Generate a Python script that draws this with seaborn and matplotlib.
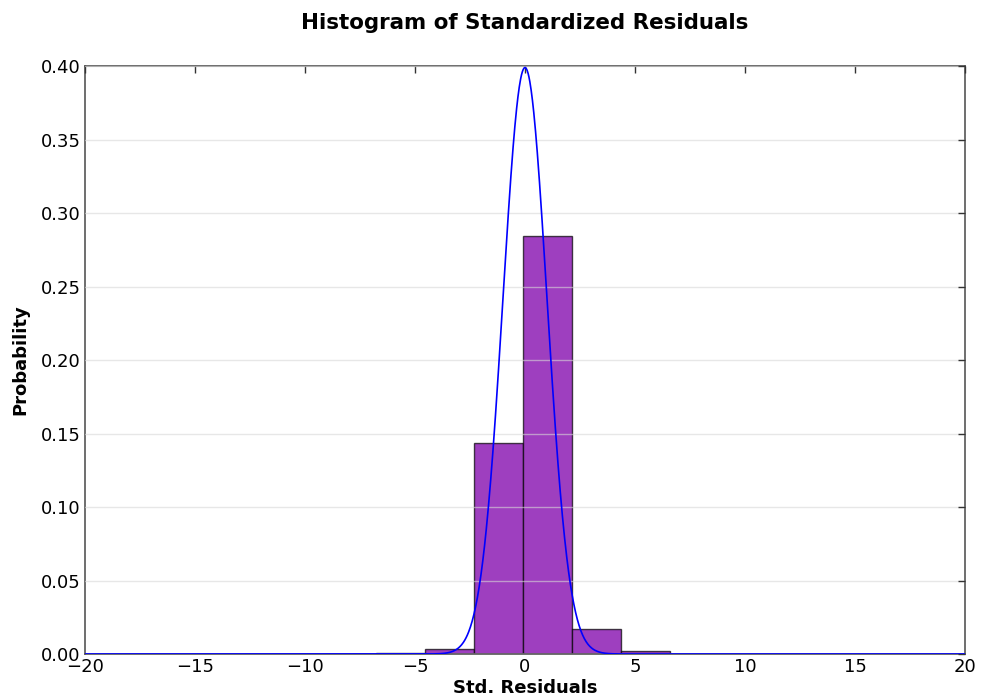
import numpy as np
import pandas as pd
import matplotlib
matplotlib.use("Agg")
import matplotlib.pyplot as plt
import seaborn as sns

# Histogram data (density per bin)
bin_edges = [-6.77, -4.55, -2.32, -0.10, 2.13, 4.35, 6.58]
bin_heights = [0.0005, 0.0034, 0.1435, 0.2844, 0.0170, 0.0023]

# Reference normal curve parameters
norm_mean = 0.0
norm_std = 1.0

x_ticks = [-20, -15, -10, -5, 0, 5, 10, 15, 20]
y_ticks = [0.00, 0.05, 0.10, 0.15, 0.20, 0.25, 0.30, 0.35, 0.40]

sns.set_style("white")
plt.rcParams['font.family'] = ['DejaVu Sans']
plt.rcParams['text.color'] = 'black'
plt.rcParams['axes.labelcolor'] = 'black'
plt.rcParams['xtick.color'] = 'black'
plt.rcParams['ytick.color'] = 'black'

fig = plt.figure(figsize=(9.81, 7.0), dpi=100)
ax = fig.add_axes([0.0866, 0.0657, 0.8971, 0.84])

centers = [(a + b) / 2 for a, b in zip(bin_edges[:-1], bin_edges[1:])]
df = pd.DataFrame({"x": centers, "w": bin_heights})
sns.histplot(data=df, x="x", weights="w", bins=bin_edges, stat="count",
             color="#9e3fbf", alpha=1.0, edgecolor="black", linewidth=1.0,
             ax=ax, zorder=1)
for p in ax.patches:
    p.set_edgecolor((0, 0, 0, 0.7))

xs = np.linspace(-20, 20, 2001)
pdf = np.exp(-0.5 * ((xs - norm_mean) / norm_std) ** 2) / (norm_std * np.sqrt(2 * np.pi))
sns.lineplot(x=xs, y=pdf, color="blue", linewidth=1.2, ax=ax, zorder=3)

ax.set_xlim(-20, 20)
ax.set_ylim(0, 0.40)
ax.set_xticks(x_ticks)
ax.set_yticks(y_ticks)
ax.set_yticklabels([f"{v:.2f}" for v in y_ticks])
ax.set_xticklabels([f"{v}".replace("-", "\u2212") for v in x_ticks])

ax.yaxis.grid(True, color="#d8d8d8", alpha=0.6, linewidth=1.0, zorder=2)
ax.xaxis.grid(False)
ax.set_axisbelow(False)

for s in ax.spines.values():
    s.set_visible(True)
    s.set_color("#555555")
    s.set_linewidth(1.2)

ax.tick_params(axis="both", direction="in", length=5, width=1.0, color="#333333",
               top=True, right=True, labelsize=13, pad=3, labelcolor="black")

ax.set_title("Histogram of Standardized Residuals", fontsize=15.4, fontweight="bold",
             pad=27, color="black")
ax.set_xlabel("Std. Residuals", fontsize=13, fontweight="bold", labelpad=2, color="black")
ax.set_ylabel("Probability", fontsize=13, fontweight="bold", labelpad=8, color="black")

fig.savefig("out.png", dpi=100)
